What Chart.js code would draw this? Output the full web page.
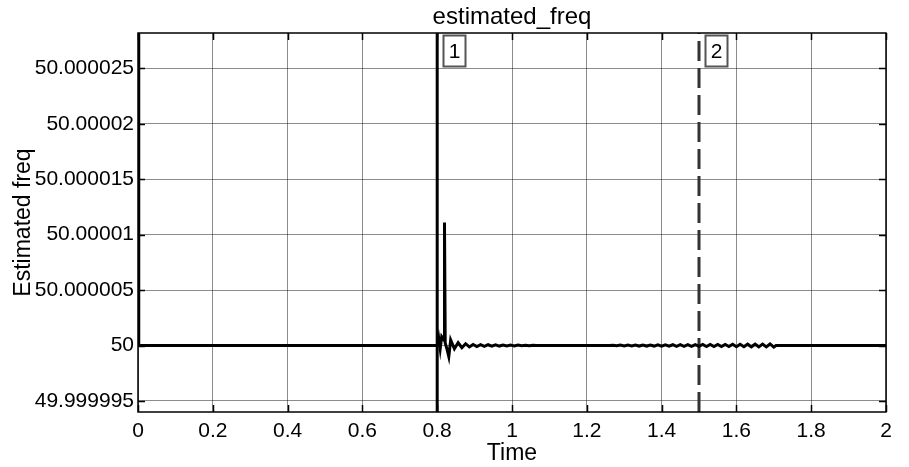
<!DOCTYPE html>
<html>
<head>
<meta charset="utf-8">
<script src="https://cdn.jsdelivr.net/npm/chart.js@4/dist/chart.umd.min.js"></script>
<style>
  html, body { margin: 0; padding: 0; background: #fff; }
  #wrap { width: 909px; height: 467px; position: relative; }
</style>
</head>
<body>
<div id="wrap"><canvas id="freqChart"></canvas></div>
<script>
// time axis (s) and estimated frequency (Hz)
const timeS = [
  0, 0.002, 0.8, 0.804, 0.808, 0.812, 0.816, 0.8185, 0.8195, 0.8215, 0.826, 0.831,
  0.836, 0.846, 0.856, 0.866, 0.876, 0.886, 0.896, 0.906, 0.916, 0.926, 0.936, 0.946,
  0.956, 0.966, 0.976, 0.986, 0.996, 1.006, 1.016, 1.026, 1.036, 1.046, 1.056, 1.066,
  1.26, 1.27, 1.28, 1.29, 1.30, 1.31, 1.32, 1.33, 1.34, 1.35, 1.36, 1.37, 1.38, 1.39,
  1.40, 1.41, 1.42, 1.43, 1.44, 1.45, 1.46, 1.47, 1.48, 1.49, 1.50, 1.51, 1.52, 1.53,
  1.54, 1.55, 1.56, 1.57, 1.58, 1.59, 1.60, 1.61, 1.62, 1.63, 1.64, 1.65, 1.66, 1.67,
  1.68, 1.69, 1.70, 1.706, 2.0
];
const freqHz = [
  50.000035, 50, 50, 50.0000007, 49.9999997, 50.0000008, 50.0000006, 50.0000008, 50.0000111, 50.0000002, 49.9999997, 49.999999,
  50.0000005, 49.9999997, 50.00000025, 49.9999998, 50.00000016, 49.99999987, 50.0000001, 49.99999991, 50.00000008, 49.99999993, 50.00000007, 49.99999994,
  50.00000006, 49.99999995, 50.00000005, 49.99999996, 50.00000004, 49.99999996, 50.00000004, 49.99999997, 50.00000003, 49.99999997, 50.00000003, 50,
  50, 50.00000003, 49.99999997, 50.00000004, 49.99999996, 50.00000004, 49.99999996, 50.00000005, 49.99999995, 50.00000005, 49.99999995, 50.00000005, 49.99999995, 50.00000006,
  49.99999994, 50.00000006, 49.99999994, 50.00000007, 49.99999993, 50.00000007, 49.99999993, 50.00000008, 49.99999992, 50.00000008, 49.99999992, 50.00000009, 49.99999991, 50.00000009,
  49.99999991, 50.0000001, 49.9999999, 50.0000001, 49.9999999, 50.00000011, 49.99999989, 50.00000011, 49.99999989, 50.00000012, 49.99999988, 50.00000012, 49.99999988, 50.00000013,
  49.99999987, 50.00000014, 49.99999986, 50, 50
];

const xTickValues = [0, 0.2, 0.4, 0.6, 0.8, 1, 1.2, 1.4, 1.6, 1.8, 2];
const xTickLabels = ['0', '0.2', '0.4', '0.6', '0.8', '1', '1.2', '1.4', '1.6', '1.8', '2'];
const yTickValues = [49.999995, 50, 50.000005, 50.00001, 50.000015, 50.00002, 50.000025];
const yTickLabels = ['49.999995', '50', '50.000005', '50.00001', '50.000015', '50.00002', '50.000025'];

// cursor markers
const cursorTimes = [0.8, 1.5];
const cursorLabels = ['1', '2'];

const yMin = 49.999994;
const yMax = 50.0000282;

const FONT = '"Liberation Sans", Arial, Helvetica, sans-serif';

const freqPoints = timeS.map((t, i) => ({ x: t, y: freqHz[i] }));

// frame, inward tick marks and the cursor number boxes
const framePlugin = {
  id: 'frame',
  afterDatasetsDraw(chart) {
    const { ctx, chartArea: a, scales: { x, y } } = chart;
    ctx.save();
    ctx.strokeStyle = '#000';
    ctx.lineWidth = 1.5;
    ctx.beginPath();
    yTickValues.forEach(v => {
      const py = Math.round(y.getPixelForValue(v)) + 0.5;
      ctx.moveTo(a.left, py); ctx.lineTo(a.left + 7, py);
      ctx.moveTo(a.right, py); ctx.lineTo(a.right - 7, py);
    });
    xTickValues.forEach(v => {
      const px = Math.round(x.getPixelForValue(v)) + 0.5;
      ctx.moveTo(px, a.bottom); ctx.lineTo(px, a.bottom - 7);
      ctx.moveTo(px, a.top); ctx.lineTo(px, a.top + 7);
    });
    ctx.stroke();
    ctx.strokeRect(a.left, a.top, a.right - a.left, a.bottom - a.top);

    cursorTimes.forEach((t, i) => {
      const px = x.getPixelForValue(t) + 6;
      const bx = Math.round(px) + 0.5, by = a.top + 2.5, bw = 22, bh = 31;
      ctx.fillStyle = '#fff';
      ctx.fillRect(bx, by, bw, bh);
      ctx.strokeStyle = '#555';
      ctx.lineWidth = 2;
      ctx.strokeRect(bx, by, bw, bh);
      ctx.fillStyle = '#000';
      ctx.font = '21px ' + FONT;
      ctx.textAlign = 'center';
      ctx.textBaseline = 'middle';
      ctx.fillText(cursorLabels[i], bx + bw / 2, by + bh / 2 + 1);
    });
    ctx.restore();
  }
};

const cursorSets = cursorTimes.map((t, i) => ({
  label: 'cursor ' + cursorLabels[i],
  data: [{ x: t, y: yMin }, { x: t, y: yMax }],
  borderColor: i === 0 ? '#000' : '#333',
  borderWidth: 3,
  borderDash: i === 0 ? [] : [20, 7],
  pointRadius: 0,
  fill: false
}));

new Chart(document.getElementById('freqChart'), {
  type: 'line',
  data: {
    datasets: [
      {
        label: 'estimated_freq',
        data: freqPoints,
        borderColor: '#000',
        borderWidth: 3,
        pointRadius: 0,
        tension: 0,
        fill: false
      },
      ...cursorSets
    ]
  },
  options: {
    responsive: true,
    maintainAspectRatio: false,
    animation: false,
    devicePixelRatio: 1,
    layout: { padding: { left: 0, right: 23, top: 0, bottom: 0 } },
    plugins: {
      legend: { display: false },
      tooltip: { enabled: false },
      title: {
        display: true,
        text: 'estimated_freq',
        color: '#000',
        fullSize: false,
        font: { family: FONT, size: 24, weight: 'normal' },
        padding: { top: 2.6, bottom: 1.6 }
      }
    },
    scales: {
      x: {
        type: 'linear',
        min: 0,
        max: 2,
        afterBuildTicks: s => { s.ticks = xTickValues.map(v => ({ value: v })); },
        afterFit: s => { s.height = 55; },
        ticks: {
          color: '#000',
          padding: 7,
          maxRotation: 0,
          autoSkip: false,
          font: { family: FONT, size: 21 },
          callback: (v, i) => xTickLabels[i]
        },
        grid: { color: 'rgba(0,0,0,0.45)', lineWidth: 1, drawTicks: false },
        border: { display: false },
        title: {
          display: true,
          text: 'Time',
          color: '#000',
          font: { family: FONT, size: 23 },
          padding: { top: 0, bottom: 0 }
        }
      },
      y: {
        type: 'linear',
        min: yMin,
        max: yMax,
        afterBuildTicks: s => { s.ticks = yTickValues.map(v => ({ value: v })); },
        afterFit: s => { s.width = 138; },
        ticks: {
          color: '#000',
          padding: 4,
          autoSkip: false,
          font: { family: FONT, size: 21 },
          callback: (v, i) => yTickLabels[i]
        },
        grid: { color: 'rgba(0,0,0,0.45)', lineWidth: 1, drawTicks: false },
        border: { display: false },
        title: {
          display: true,
          text: 'Estimated freq',
          color: '#000',
          font: { family: FONT, size: 23 },
          padding: { top: 10, bottom: 0 }
        }
      }
    }
  },
  plugins: [framePlugin]
});
</script>
</body>
</html>
